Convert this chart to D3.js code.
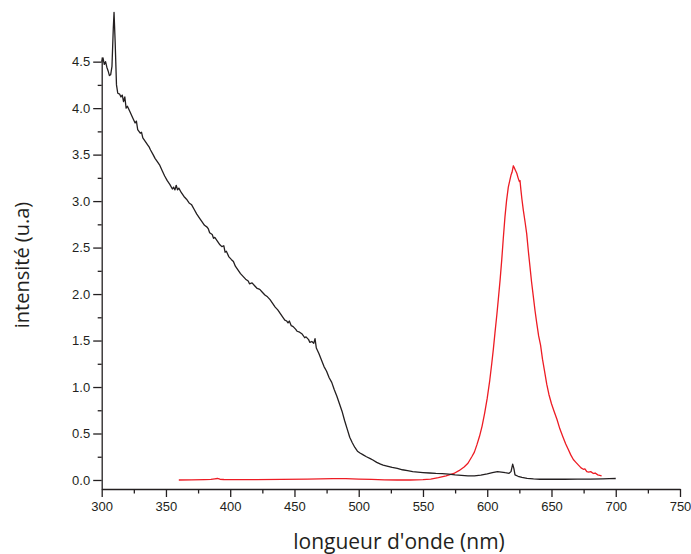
<!DOCTYPE html>
<html><head><meta charset="utf-8">
<script src="https://cdn.jsdelivr.net/npm/d3@7"></script>
<style>
body{margin:0;background:#fff;}
svg{display:block;font-family:"Open Sans",sans-serif;}
</style></head><body>
<svg id="c" width="691" height="554"></svg>
<script>
// Black spectrum (absorption-like)
const blackWavelength = [300,301,302,303,304,305,306,307,308,309,309.6,310.5,311.5,312.5,314,315,316,317,318,319,320,322,324,326,327,328,330,331,332,334,336,337,338,340,341.5,343,345,347,349,351,353,355,356,357,358,359,360,362,364,366,368,370,372,374,376.5,378,380,382,383,384,386,387,388,390,392,393.5,395,396,397,399,401,402.5,404,406,408,410,412,414,415,417,419,421,423,425,427,429,431,433,435,437,439,441,442.5,444,445,446,447.5,449,451,452,454,456,458,459,461,462,463.5,465,466,467,469,471,473,475,477,479,481,483,485,487,489,491,493,495,497,499,501,503.5,506,509,511,514,517,519,522,526,530,534,538,542,546,550,555,560,565,570,575,580,585,590,595,600,604,608,611,614,617,618.5,619.8,620.8,621.6,624,627,631,636,641,650,660,670,680,690,695,700];
const blackIntensity = [4.50,4.54,4.47,4.50,4.44,4.40,4.35,4.36,4.45,4.85,5.03,4.70,4.25,4.16,4.15,4.12,4.14,4.07,4.12,4.00,4.02,3.96,3.90,3.84,3.86,3.77,3.73,3.74,3.68,3.64,3.60,3.58,3.55,3.50,3.46,3.43,3.39,3.33,3.27,3.22,3.18,3.13,3.15,3.12,3.17,3.12,3.14,3.09,3.05,3.02,2.98,2.96,2.91,2.86,2.81,2.78,2.74,2.72,2.70,2.66,2.64,2.60,2.61,2.57,2.53,2.51,2.52,2.45,2.46,2.40,2.37,2.35,2.30,2.26,2.22,2.19,2.16,2.14,2.11,2.12,2.09,2.06,2.05,2.02,1.99,1.97,1.94,1.90,1.86,1.83,1.79,1.75,1.72,1.71,1.69,1.71,1.66,1.65,1.62,1.60,1.59,1.57,1.53,1.54,1.51,1.48,1.49,1.47,1.52,1.42,1.36,1.29,1.22,1.17,1.10,1.05,0.97,0.90,0.82,0.74,0.64,0.55,0.46,0.40,0.35,0.31,0.29,0.27,0.25,0.23,0.215,0.19,0.17,0.16,0.15,0.135,0.125,0.11,0.10,0.09,0.085,0.08,0.075,0.07,0.068,0.062,0.055,0.05,0.045,0.045,0.052,0.065,0.078,0.09,0.085,0.078,0.072,0.09,0.17,0.12,0.055,0.04,0.028,0.018,0.012,0.008,0.008,0.008,0.01,0.01,0.012,0.014,0.016];

// Red spectrum (emission)
const redWavelength = [360,370,380,385,388,390,392,395,400,420,440,460,480,490,500,510,520,530,540,550,556,562,568,574,578,582,585,588,590,592,594,596,598,600,602,603.5,604.7,606,607.5,608.6,610,611.3,612.5,613.8,615,616.4,617.7,618.5,619.3,620.3,621,622,623,624,625,625.5,626.2,627,628.1,629.5,630.7,632,633.3,634.5,635.9,637.2,638.5,640,641.5,643,644.5,646.3,648,650,652,654.3,656.5,659,661,663,665,667,669,671,673,674.8,676,677.5,679,680.5,682.6,684,686,689];
const redIntensity = [0.0,0.002,0.004,0.006,0.012,0.016,0.008,0.005,0.004,0.004,0.006,0.01,0.014,0.015,0.01,0.006,0.002,0.0,0.0,0.003,0.01,0.025,0.045,0.07,0.10,0.14,0.18,0.25,0.30,0.38,0.47,0.58,0.72,0.88,1.075,1.25,1.40,1.58,1.78,1.94,2.15,2.37,2.60,2.83,3.00,3.15,3.23,3.28,3.31,3.38,3.36,3.33,3.30,3.25,3.21,3.22,3.12,3.02,2.90,2.77,2.65,2.46,2.29,2.13,1.97,1.82,1.69,1.55,1.45,1.30,1.18,1.03,0.92,0.82,0.74,0.65,0.55,0.46,0.39,0.33,0.27,0.22,0.19,0.16,0.13,0.115,0.12,0.09,0.085,0.09,0.07,0.075,0.055,0.045];

const xTicks = [300,350,400,450,500,550,600,650,700,750];
const xMinorTicks = [325,375,425,475,525,575,625,675,725];
const yTicks = [0,0.5,1.0,1.5,2.0,2.5,3.0,3.5,4.0,4.5];
const yMinorTicks = [0.25,0.75,1.25,1.75,2.25,2.75,3.25,3.75,4.25];
const xTitle = "longueur d'onde (nm)";
const yTitle = "intensité (u.a)";

const svg = d3.select("#c");
const x = d3.scaleLinear().domain([300,750]).range([101.7,680]);
const y = d3.scaleLinear().domain([-0.097,4.55]).range([489,57]);

const axisColor = "#231f20";

// x axis
const gx = svg.append("g").attr("transform","translate(0,489)");
gx.call(d3.axisBottom(x).tickValues(xTicks).tickSize(8).tickSizeOuter(0).tickFormat(d3.format("d")));
gx.append("g").call(d3.axisBottom(x).tickValues(xMinorTicks).tickSize(4.5).tickSizeOuter(0).tickFormat(""))
  .select(".domain").remove();
// y axis
const gy = svg.append("g").attr("transform","translate(101.7,0)");
gy.call(d3.axisLeft(y).tickValues(yTicks).tickSize(8.5).tickSizeOuter(0).tickFormat(d3.format(".1f")));
gy.append("g").call(d3.axisLeft(y).tickValues(yMinorTicks).tickSize(4).tickSizeOuter(0).tickFormat(""))
  .select(".domain").remove();

svg.selectAll(".domain, .tick line").attr("stroke",axisColor).attr("stroke-width",1.3);
gx.selectAll(".tick text").attr("font-size",13).attr("fill",axisColor).attr("dy","0.95em").attr("y",9.5);
gy.selectAll(".tick text").attr("font-size",13).attr("fill",axisColor).attr("x",-11.5);

// lines
const lineGen = d3.line().x(d=>x(d[0])).y(d=>y(d[1]));
const blackData = blackWavelength.map((w,i)=>[w,blackIntensity[i]]);
const redData = redWavelength.map((w,i)=>[w,redIntensity[i]]);
svg.append("path").datum(redData).attr("d",lineGen).attr("fill","none")
  .attr("stroke","#ed1c24").attr("stroke-width",1.3).attr("stroke-linejoin","round");
svg.append("path").datum(blackData).attr("d",lineGen).attr("fill","none")
  .attr("stroke","#231f20").attr("stroke-width",1.3).attr("stroke-linejoin","round");

// titles
svg.append("text").attr("x",399).attr("y",549).attr("text-anchor","middle")
  .attr("font-size",21).attr("fill",axisColor).text(xTitle);
svg.append("text").attr("transform","translate(29,265) rotate(-90)").attr("text-anchor","middle")
  .attr("font-size",20).attr("fill",axisColor).text(yTitle);
</script></body></html>
